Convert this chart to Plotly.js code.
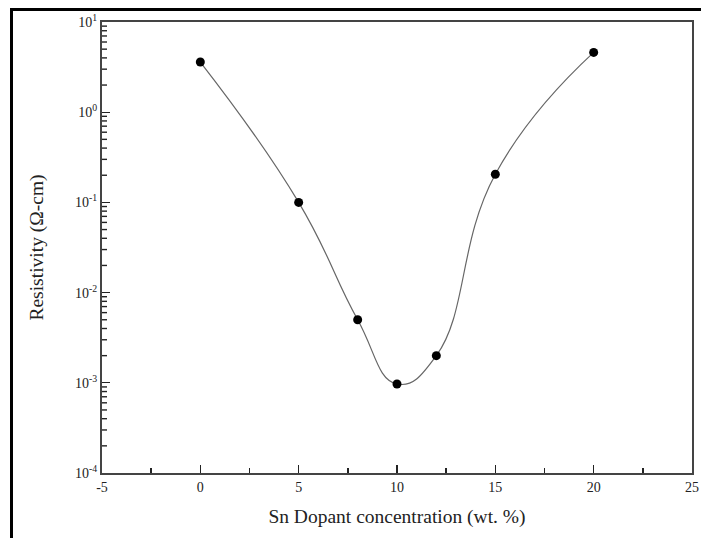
<!DOCTYPE html>
<html>
<head>
<meta charset="utf-8">
<script src="https://cdn.plot.ly/plotly-3.0.1.min.js"></script>
<style>
html,body{margin:0;padding:0;background:#fff;}
#wrap{position:relative;width:701px;height:538px;}
#chart{position:absolute;left:0;top:0;width:701px;height:538px;}
#ftop{position:absolute;left:10px;top:8px;width:691px;height:3px;background:#000;}
#fleft{position:absolute;left:10px;top:8px;width:3px;height:530px;background:#000;}
</style>
</head>
<body>
<div id="wrap">
<div id="chart"></div>
<div id="ftop"></div>
<div id="fleft"></div>
</div>
<script>
var snConc = [0, 5, 8, 10, 12, 15, 20];
var resistivity = [3.6, 0.1, 0.005, 0.00097, 0.002, 0.205, 4.6];
var yTickVals = [1e-4, 1e-3, 1e-2, 1e-1, 1, 10];
var yTickText = ['10<sup>-4</sup>', '10<sup>-3</sup>', '10<sup>-2</sup>', '10<sup>-1</sup>', '10<sup>0</sup>', '10<sup>1</sup>'];
var xTickVals = [-5, 0, 5, 10, 15, 20, 25];
var xTickText = ['-5', '0', '5', '10', '15', '20', '25'];
var yLogRange = [-4, 1];

// minor tick positions (2..9 within each decade)
var yMinorVals = [];
for (var d = yLogRange[0]; d < yLogRange[1]; d++) {
  for (var m = 2; m <= 9; m++) yMinorVals.push(m * Math.pow(10, d));
}

var ff = '"Liberation Serif", "Times New Roman", serif';

// minor y ticks drawn as short inside line shapes on the left axis
var plotW = 701 - 102 - 9;
var minorShapes = yMinorVals.map(function (v) {
  var f = (Math.log10(v) - yLogRange[0]) / (yLogRange[1] - yLogRange[0]);
  return {type: 'line', xref: 'paper', yref: 'paper', x0: 0, x1: 5 / plotW, y0: f, y1: f,
          line: {color: '#222', width: 1.4}, layer: 'above'};
});

var traces = [
  {x: snConc, y: resistivity, type: 'scatter', mode: 'lines',
   line: {shape: 'spline', smoothing: 1.3, color: '#666', width: 1.2},
   hoverinfo: 'skip', showlegend: false},
  {x: snConc, y: resistivity, type: 'scatter', mode: 'markers',
   marker: {color: '#000', size: 9}, showlegend: false}
];

var layout = {
  width: 701, height: 538,
  margin: {l: 102, r: 9, t: 22, b: 65},
  paper_bgcolor: '#fff', plot_bgcolor: '#fff',
  font: {family: ff, color: '#222', size: 14},
  showlegend: false,
  shapes: minorShapes,
  xaxis: {
    range: [-5, 25], tickmode: 'array', tickvals: xTickVals, ticktext: xTickText,
    ticks: 'inside', ticklen: 8, tickwidth: 1.4,
    tickcolor: '#222', showline: true, linecolor: '#444', linewidth: 2, mirror: true,
    showgrid: false, zeroline: false,
    minor: {dtick: 2.5, tick0: -5, ticks: 'inside', ticklen: 5, tickwidth: 1.4, tickcolor: '#222', showgrid: false},
    title: {text: 'Sn Dopant concentration (wt. %)', font: {family: ff, size: 19.5, color: '#222'}, standoff: 16},
    tickfont: {size: 14}
  },
  yaxis: {
    type: 'log', range: yLogRange, tickmode: 'array', tickvals: yTickVals, ticktext: yTickText,
    ticks: 'inside', ticklen: 8, tickwidth: 1.4, tickcolor: '#222',
    showline: true, linecolor: '#444', linewidth: 2, mirror: true,
    showgrid: false, zeroline: false,
    title: {text: 'Resistivity (Ω-cm)', font: {family: ff, size: 19.5, color: '#222'}, standoff: 26},
    tickfont: {size: 14}
  }
};

Plotly.newPlot('chart', traces, layout, {staticPlot: true, displayModeBar: false});
</script>
</body>
</html>
